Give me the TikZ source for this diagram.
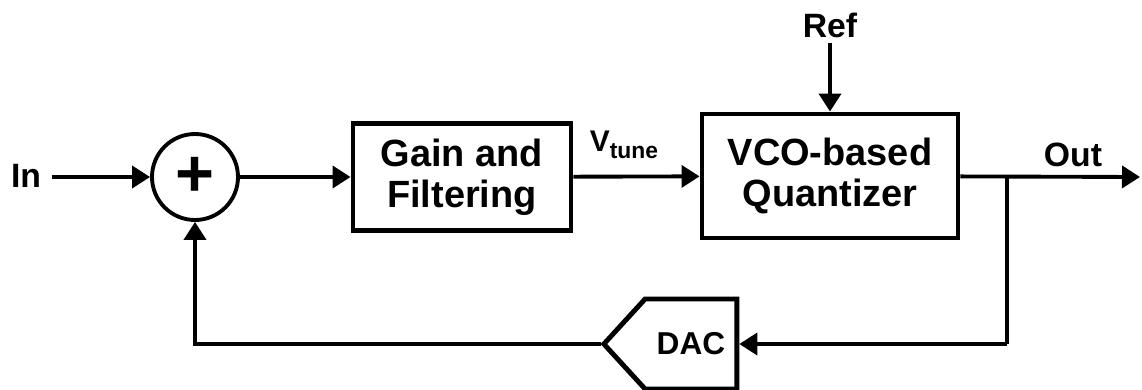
\documentclass[tikz,border=0pt]{standalone}
\usepackage{fontspec}
\setmainfont{Liberation Sans}
\usetikzlibrary{arrows.meta,shapes.symbols}

\begin{document}
\begin{tikzpicture}[x=1cm, y=1cm]
		\tikzset{
			every node/.style={
				font=\bfseries,
				align=center,
				inner sep=0pt
			},
			block/.style={
				draw,
				rectangle,
				line width=1.4pt,
				font=\bfseries\fontsize{10.8}{11.6}\selectfont
			},
			sum/.style={
				draw,
				circle,
				line width=1.1pt,
				minimum size=0.86cm
			},
			dac/.style={
				draw,
				signal,
				signal to=west,
				signal pointer angle=95,
				line width=1.4pt,
				minimum height=0.9cm,
				minimum width=1.33cm,
				font=\bfseries\fontsize{9}{10}\selectfont
			},
			lbl/.style={
				font=\bfseries\fontsize{9.6}{11}\selectfont
			},
			line/.style={
				-{Triangle[length=1.8mm, width=2.2mm]},
				line width=1.1pt
			}
		}

		\useasboundingbox (0, 0) rectangle (11.42, 3.89);

		\node[lbl] (inlbl) at (0.26, 2.13)
			{In};
		\coordinate (in) at (0.52, 2.12);
		\node[sum] (join) at (1.95, 2.12)
			{\fontsize{19}{19}\selectfont +};

		\node[block, minimum width=2.18cm, minimum height=1.07cm] (gain) at (4.62, 2.12)
			{Gain and\\ Filtering};
		\node[block, minimum width=2.56cm, minimum height=1.24cm] (vco) at (8.30, 2.13)
			{VCO-based\\ Quantizer};

		\node[lbl, font=\bfseries\fontsize{8.5}{10}\selectfont] (vtune) at (6.24, 2.44)
			{V\raisebox{-0.45ex}{\fontsize{6.5}{7}\selectfont tune}};
		\node[lbl] (ref) at (8.30, 3.64)
			{Ref};
		\node[lbl] (outlbl) at (10.73, 2.34)
			{Out};

		\coordinate (out) at (11.40, 2.12);
		\coordinate (branch) at (10.07, 2.12);
		\coordinate (fb) at (10.07, 0.45);

		\node[dac] (dac) at (6.91, 0.45)
			{DAC};

		\draw[line] (in) -- (join);
		\draw[line] (join) -- (gain);
		\draw[line] (gain) -- (vco);
		\draw[line] (ref.south) ++(0, -0.05) -- (vco.north);
		\draw[line] (vco) -- (out);

		\draw[line width=1.1pt] (branch) -- (fb);
		\draw[line] (fb) -- (dac.east);
		\draw[line] (dac.west) -| (join.south);

	\end{tikzpicture}
\end{document}
